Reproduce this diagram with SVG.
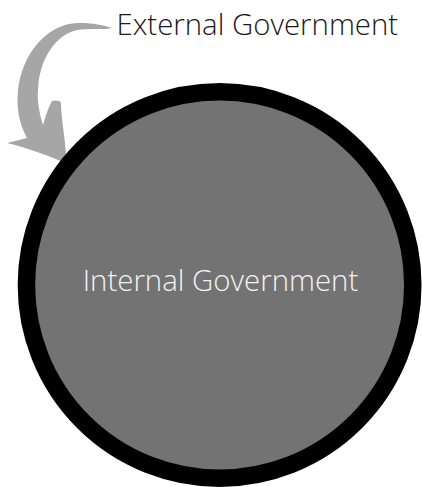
<svg xmlns="http://www.w3.org/2000/svg" width="422" height="487" viewBox="0 0 422 487">
<style>
.lbl{font-family:"Open Sans","Liberation Sans",sans-serif;font-weight:300;font-size:29.4px;}
</style>
<rect width="422" height="487" fill="#ffffff"/>
<g id="connectors">
<path id="arrow" fill="#a6a6a6" d="M 112,28 C 100,24 80,21 65,25 C 40,33 22,58 18,90 C 16,110 20,125 27,138 L 7,143 C 20,146 40,152 63,162 L 66,160 C 66,140 61,120 61,103 C 60,100 55,100 52,101 C 48,108 45,118 43,125 C 39,112 37,100 38,90 C 39,60 55,35 77,30 C 90,28 105,30 112,28 Z"/>
</g>
<g id="internal">
<circle cx="219.6" cy="285" r="193.2" fill="#737373" stroke="#000000" stroke-width="17.5"/>
<text class="lbl" x="220.5" y="291" fill="#f2f2f2" text-anchor="middle">Internal Government</text>
</g>
<g id="external">
<text class="lbl" x="116.5" y="35" fill="#1a1a1a">External Government</text>
</g>
</svg>
